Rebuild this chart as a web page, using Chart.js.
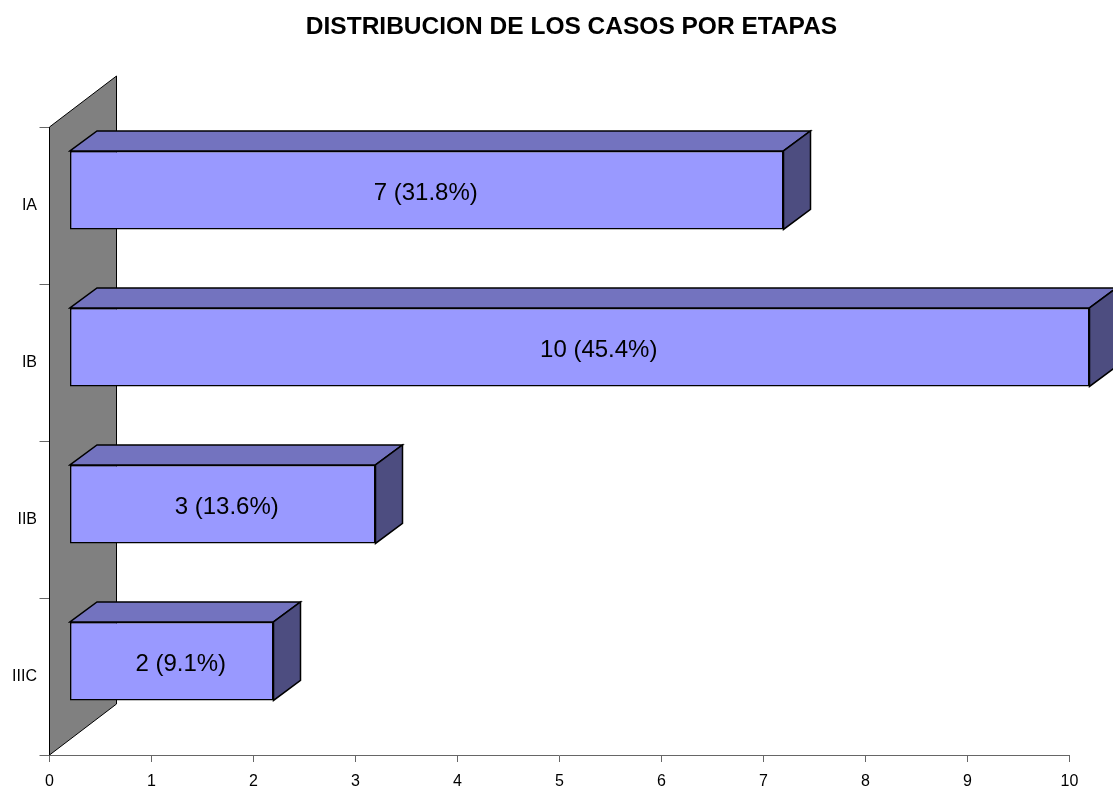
<!DOCTYPE html>
<html>
<head>
<meta charset="utf-8">
<title>Distribucion de los casos por etapas</title>
<script src="https://cdn.jsdelivr.net/npm/chart.js@4.4.0/dist/chart.umd.min.js"></script>
<style>
    body { margin: 0; background: #ffffff; }
    #main { width: 1113px; height: 794px; }
</style>
</head>
<body>
<div id="main"><canvas id="myChart" width="1113" height="794"></canvas></div>
<script>
const etapas = ['IA', 'IB', 'IIB', 'IIIC'];
const casos = [7, 10, 3, 2];
const etiquetas = ['7 (31.8%)', '10 (45.4%)', '3 (13.6%)', '2 (9.1%)'];
const xticks = [0, 1, 2, 3, 4, 5, 6, 7, 8, 9, 10];

// 3d look: shift of the front face and depth of the boxes / back wall
const FRONT = { dx: 20, dy: -15.3 };
const DEPTH = { dx: 27, dy: -20 };
const WALL = { dx: 67, dy: -51 };
// labels are not exactly centred in the original, small nudges in px
const LABEL_NUDGE = [-1, 19, 4, 9];

document.addEventListener('DOMContentLoaded', () => {
    chartEtapas();
});

function chartEtapas() {

    const box3d = {
        id: 'box3d',
        afterLayout(chart) {
            // title is centred a bit right of the plot in the original
            chart.titleBlock.left = 73.5;
        },
        beforeDatasetsDraw(chart) {
            const c = chart.ctx;
            const a = chart.chartArea;

            // gray back wall
            c.save();
            c.beginPath();
            c.moveTo(a.left, a.top);
            c.lineTo(a.left + WALL.dx, a.top + WALL.dy);
            c.lineTo(a.left + WALL.dx, a.bottom + WALL.dy);
            c.lineTo(a.left, a.bottom);
            c.closePath();
            c.fillStyle = '#808080';
            c.fill();
            c.lineWidth = 1;
            c.strokeStyle = '#000000';
            c.stroke();

            // top and side faces
            chart.getDatasetMeta(0).data.forEach(bar => {
                const xl = bar.base + FRONT.dx;
                const xr = bar.x + FRONT.dx;
                const yt = bar.y - bar.height / 2 + FRONT.dy;
                const yb = bar.y + bar.height / 2 + FRONT.dy;

                c.beginPath();
                c.moveTo(xl, yt);
                c.lineTo(xl + DEPTH.dx, yt + DEPTH.dy);
                c.lineTo(xr + DEPTH.dx, yt + DEPTH.dy);
                c.lineTo(xr, yt);
                c.closePath();
                c.fillStyle = '#7373bf';
                c.fill();
                c.lineWidth = 1.5;
                c.stroke();

                c.beginPath();
                c.moveTo(xr, yt);
                c.lineTo(xr + DEPTH.dx, yt + DEPTH.dy);
                c.lineTo(xr + DEPTH.dx, yb + DEPTH.dy);
                c.lineTo(xr, yb);
                c.closePath();
                c.fillStyle = '#4d4d80';
                c.fill();
                c.stroke();
            });
            c.restore();

            // front faces are drawn by chart.js, moved forward
            c.save();
            c.translate(FRONT.dx, FRONT.dy);
        },
        afterDatasetsDraw(chart) {
            const c = chart.ctx;
            c.restore();

            c.save();
            c.fillStyle = '#000000';
            c.font = '24px "Liberation Sans", Arial, sans-serif';
            c.textAlign = 'center';
            c.textBaseline = 'middle';
            chart.getDatasetMeta(0).data.forEach((bar, i) => {
                const cx = (bar.base + bar.x) / 2 + FRONT.dx + LABEL_NUDGE[i];
                const cy = bar.y + FRONT.dy;
                c.fillText(etiquetas[i], cx, cy + 3);
            });
            c.restore();
        }
    };

    const ctx = document.getElementById('myChart');

    new Chart(ctx, {
        type: 'bar',
        data: {
            labels: etapas,
            datasets: [{
                label: 'Casos',
                data: casos,
                backgroundColor: '#9999ff',
                borderColor: '#000000',
                borderWidth: 1.5,
                borderSkipped: false,
                barPercentage: 1,
                categoryPercentage: 0.5,
                clip: false
            }]
        },
        options: {
            indexAxis: 'y',
            responsive: false,
            animation: false,
            devicePixelRatio: 1,
            layout: {
                padding: { left: 0, right: 43.5, top: 0, bottom: 0 }
            },
            plugins: {
                legend: { display: false },
                tooltip: { enabled: false },
                title: {
                    display: true,
                    text: 'DISTRIBUCION DE LOS CASOS POR ETAPAS',
                    color: '#000000',
                    font: { family: '"Liberation Sans", Arial, sans-serif', size: 24.5, weight: 'bold' },
                    padding: { top: 13, bottom: 84.6 }
                }
            },
            scales: {
                x: {
                    min: 0,
                    max: 10,
                    afterBuildTicks: scale => {
                        scale.ticks = xticks.map(v => ({ value: v }));
                    },
                    afterFit: scale => { scale.height = 39; },
                    grid: {
                        drawOnChartArea: false,
                        drawTicks: true,
                        tickLength: 7,
                        color: '#666666'
                    },
                    border: { display: true, color: '#666666', width: 1 },
                    ticks: {
                        color: '#000000',
                        padding: 10,
                        maxRotation: 0,
                        font: { family: '"Liberation Sans", Arial, sans-serif', size: 16 }
                    }
                },
                y: {
                    offset: true,
                    afterFit: scale => { scale.width = 49.5; },
                    grid: {
                        offset: true,
                        drawOnChartArea: false,
                        drawTicks: true,
                        tickLength: 10,
                        color: '#666666'
                    },
                    border: { display: false },
                    ticks: {
                        color: '#000000',
                        padding: 2.5,
                        font: { family: '"Liberation Sans", Arial, sans-serif', size: 16 }
                    }
                }
            }
        },
        plugins: [box3d]
    });
}
</script>
</body>
</html>
